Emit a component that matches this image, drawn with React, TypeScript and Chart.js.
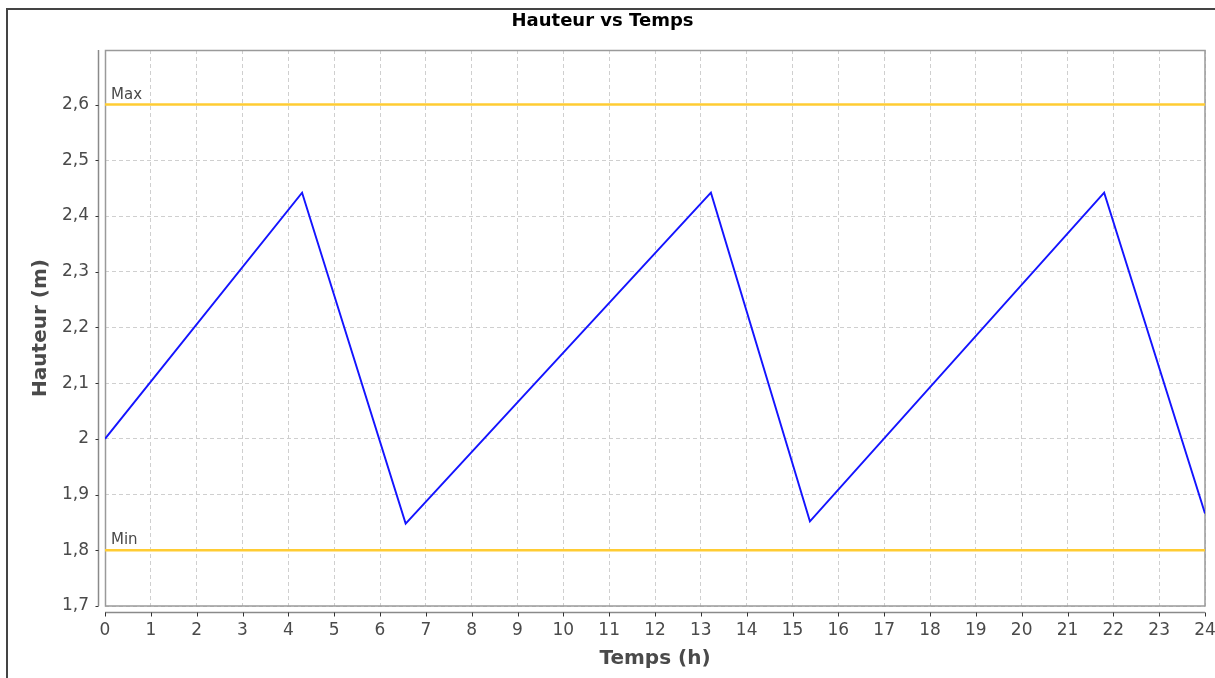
import { useEffect, useRef } from "react";
import { Chart, registerables } from "chart.js";

Chart.register(...registerables);

// ---- data ----
const TIME_H = [0, 4.3, 6.56, 13.22, 15.38, 21.8, 24];
const HEIGHT_M = [2.0, 2.442, 1.848, 2.442, 1.852, 2.442, 1.866];

const LIMIT_NAMES = ["Max", "Min"];
const LIMIT_VALUES = [2.6, 1.8];

const X_RANGE = [0, 24];
const Y_RANGE = [1.7, 2.698];

const X_TICKS = [0, 1, 2, 3, 4, 5, 6, 7, 8, 9, 10, 11, 12, 13, 14, 15, 16, 17, 18, 19, 20, 21, 22, 23, 24];
const Y_TICKS = [1.7, 1.8, 1.9, 2.0, 2.1, 2.2, 2.3, 2.4, 2.5, 2.6];
const Y_TICK_LABELS = ["1,7", "1,8", "1,9", "2", "2,1", "2,2", "2,3", "2,4", "2,5", "2,6"];

const TITLE = "Hauteur vs Temps";
const X_TITLE = "Temps (h)";
const Y_TITLE = "Hauteur (m)";

const FONT = "'DejaVu Sans', sans-serif";
const TEXT_GRAY = "#4a4a4a";

const framePlugin = {
  id: "frame",
  beforeDraw(chart: any) {
    const { ctx, width, height } = chart;
    ctx.save();
    ctx.fillStyle = "#ffffff";
    ctx.fillRect(0, 0, width, height);
    ctx.fillStyle = "#444444";
    ctx.fillRect(7, 8, width - 7, 2);
    ctx.fillRect(6, 8, 2, height - 8);
    ctx.restore();
  },
  beforeDatasetsDraw(chart: any) {
    const { ctx, chartArea: a } = chart;
    ctx.save();
    ctx.strokeStyle = "#9a9a9a";
    ctx.lineWidth = 1.5;
    ctx.strokeRect(a.left + 0.5, a.top + 0.5, a.right - a.left - 0.5, a.bottom - a.top - 0.5);
    ctx.restore();
  },
  afterDatasetsDraw(chart: any) {
    const { ctx, chartArea: a, scales } = chart;
    const y = scales.y;
    ctx.save();
    ctx.font = `15px ${FONT}`;
    ctx.fillStyle = TEXT_GRAY;
    ctx.textAlign = "left";
    ctx.textBaseline = "alphabetic";
    LIMIT_NAMES.forEach((name, i) => {
      const py = y.getPixelForValue(LIMIT_VALUES[i]);
      ctx.fillText(name, a.left + 6, py - 6);
    });
    ctx.restore();
  },
  afterDraw(chart: any) {
    const { ctx, chartArea: a, scales } = chart;
    const x = scales.x;
    const y = scales.y;
    ctx.save();
    ctx.strokeStyle = "#8a8a8a";
    ctx.lineWidth = 1.5;
    const ax = a.left - 6.5;
    ctx.beginPath();
    ctx.moveTo(ax, a.top);
    ctx.lineTo(ax, a.bottom);
    ctx.stroke();
    const ay = a.bottom + 6.5;
    ctx.beginPath();
    ctx.moveTo(a.left, ay);
    ctx.lineTo(a.right, ay);
    ctx.stroke();
    ctx.strokeStyle = "#333333";
    ctx.lineWidth = 1;
    ctx.beginPath();
    Y_TICKS.forEach((v) => {
      const py = Math.round(y.getPixelForValue(v)) + 0.5;
      ctx.moveTo(ax - 3, py);
      ctx.lineTo(ax, py);
    });
    X_TICKS.forEach((v) => {
      const px = Math.round(x.getPixelForValue(v)) + 0.5;
      ctx.moveTo(px, ay);
      ctx.lineTo(px, ay + 4);
    });
    ctx.stroke();
    ctx.restore();
  },
};

export default function App() {
  const canvasRef = useRef<HTMLCanvasElement | null>(null);

  useEffect(() => {
    const canvas = canvasRef.current;
    if (!canvas) return;
    Chart.defaults.font.family = FONT;

    const series = TIME_H.map((t, i) => ({ x: t, y: HEIGHT_M[i] }));
    const limitSets = LIMIT_NAMES.map((name, i) => ({
      label: name,
      data: [
        { x: X_RANGE[0], y: LIMIT_VALUES[i] },
        { x: X_RANGE[1], y: LIMIT_VALUES[i] },
      ],
      borderColor: "rgb(255, 204, 51)",
      borderWidth: 2.5,
      pointRadius: 0,
      tension: 0,
      order: 2,
    }));

    const chart = new Chart(canvas, {
      type: "line",
      data: {
        datasets: [
          {
            label: "Hauteur",
            data: series,
            borderColor: "rgb(20, 20, 255)",
            borderWidth: 1.9,
            pointRadius: 0,
            tension: 0,
            order: 1,
          },
          ...limitSets,
        ],
      },
      options: {
        responsive: false,
        animation: false,
        events: [],
        layout: { padding: { left: 0, right: 10, top: 0, bottom: 0 } },
        plugins: {
          legend: { display: false },
          tooltip: { enabled: false },
          title: {
            display: true,
            text: TITLE,
            color: "#000000",
            font: { family: FONT, size: 18, weight: "bold" },
            padding: { top: 11, bottom: 17.4 },
          },
        },
        scales: {
          x: {
            type: "linear",
            min: X_RANGE[0],
            max: X_RANGE[1],
            afterBuildTicks: (s: any) => {
              s.ticks = X_TICKS.map((v) => ({ value: v }));
            },
            afterFit: (s: any) => {
              s.height = 72;
              s.paddingLeft = 0;
              s.paddingRight = 0;
            },
            ticks: {
              padding: 14,
              color: TEXT_GRAY,
              font: { family: FONT, size: 17 },
              maxRotation: 0,
              autoSkip: false,
              callback: (v: any) => String(v),
            },
            grid: { color: "#cfcfcf", lineWidth: 1, drawTicks: false },
            border: { display: false, dash: [4, 3] },
            title: {
              display: true,
              text: X_TITLE,
              color: TEXT_GRAY,
              font: { family: FONT, size: 20, weight: "bold" },
              padding: { top: 0, bottom: 7.5 },
            },
          },
          y: {
            type: "linear",
            min: Y_RANGE[0],
            max: Y_RANGE[1],
            afterBuildTicks: (s: any) => {
              s.ticks = Y_TICKS.map((v) => ({ value: v }));
            },
            afterFit: (s: any) => {
              s.width = 105;
              s.paddingTop = 0;
              s.paddingBottom = 0;
            },
            ticks: {
              padding: 16,
              color: TEXT_GRAY,
              font: { family: FONT, size: 17 },
              autoSkip: false,
              callback: (_v: any, i: number) => Y_TICK_LABELS[i],
            },
            grid: { color: "#cfcfcf", lineWidth: 1, drawTicks: false },
            border: { display: false, dash: [4, 3] },
            title: {
              display: true,
              text: Y_TITLE,
              color: TEXT_GRAY,
              font: { family: FONT, size: 20, weight: "bold" },
              padding: { top: 28.5, bottom: 0 },
            },
          },
        },
      },
      plugins: [framePlugin],
    });

    return () => {
      chart.destroy();
    };
  }, []);

  return (
    <div style={{ position: "absolute", left: 0, top: 0, width: 1215, height: 678 }}>
      <canvas ref={canvasRef} width={1215} height={678} style={{ display: "block" }} />
    </div>
  );
}
